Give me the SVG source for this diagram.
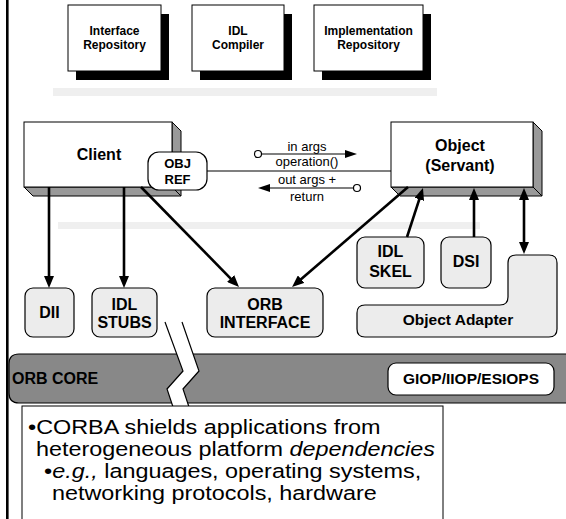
<svg xmlns="http://www.w3.org/2000/svg" width="566" height="519" viewBox="0 0 566 519">
  <defs>
    <marker id="head" markerUnits="userSpaceOnUse" markerWidth="12" markerHeight="10" refX="4" refY="5" orient="auto-start-reverse">
      <path d="M0,0 L12,5 L0,10 Z" fill="#000"/>
    </marker>
    <marker id="headSmall" markerUnits="userSpaceOnUse" markerWidth="12" markerHeight="8" refX="2" refY="4" orient="auto">
      <path d="M0,0 L12,4 L0,8 Z" fill="#000"/>
    </marker>
  </defs>
  <style>
    .b{font-family:"Liberation Sans",Arial,sans-serif;font-weight:bold;text-anchor:middle;fill:#000}
    .r{font-family:"Liberation Sans",Arial,sans-serif;text-anchor:middle;fill:#000;font-size:13px}
    .body{font-family:"Liberation Sans",Arial,sans-serif;fill:#000;font-size:19.5px}
    .card{fill:#fff;stroke:#000;stroke-width:1}
    .shadow{fill:#000}
    .side{fill:#999;stroke:#000;stroke-width:1;stroke-linejoin:round}
    .pill{fill:#ececec;stroke:#000;stroke-width:1.2}
    .conn{fill:none;stroke:#000;stroke-width:2.6}
    .thin{fill:none;stroke:#000;stroke-width:1.2}
    .dot{fill:#fff;stroke:#000;stroke-width:1.2}
    .bar{fill:#efefef}
  </style>

  <!-- page frame line -->
  <rect x="6" y="0" width="2.6" height="519" fill="#000"/>

  <!-- separator bars -->
  <rect class="bar" x="53" y="88" width="384" height="8"/>
  <rect class="bar" x="58" y="222" width="422" height="7"/>

  <!-- top tools -->
  <g id="interface-repository">
    <rect class="shadow" x="76" y="14" width="93" height="66"/>
    <rect class="card" x="68" y="5" width="93" height="66"/>
    <text class="b" font-size="12" x="114.5" y="35">Interface</text>
    <text class="b" font-size="12" x="114.5" y="49">Repository</text>
  </g>
  <g id="idl-compiler">
    <rect class="shadow" x="200" y="14" width="92" height="66"/>
    <rect class="card" x="192" y="5" width="92" height="66"/>
    <text class="b" font-size="12" x="238" y="35">IDL</text>
    <text class="b" font-size="12" x="238" y="49">Compiler</text>
  </g>
  <g id="implementation-repository">
    <rect class="shadow" x="322" y="14" width="109" height="66"/>
    <rect class="card" x="314" y="5" width="109" height="66"/>
    <text class="b" font-size="12" x="368.5" y="35">Implementation</text>
    <text class="b" font-size="12" x="368.5" y="49">Repository</text>
  </g>

  <!-- client -->
  <g id="client">
    <polygon class="side" points="172,122 181,131 181,196 172,187"/>
    <polygon class="side" points="24,187 172,187 181,196 33,196"/>
    <rect class="card" x="24" y="122" width="148" height="65"/>
    <text class="b" font-size="16" x="99" y="160">Client</text>
  </g>

  <!-- object / servant -->
  <g id="object">
    <polygon class="side" points="533,122 542,131 542,196 533,187"/>
    <polygon class="side" points="391,187 533,187 542,196 400,196"/>
    <rect class="card" x="391" y="122" width="142" height="65"/>
    <text class="b" font-size="16" x="460" y="151">Object</text>
    <text class="b" font-size="16" x="460" y="171">(Servant)</text>
  </g>

  <!-- lower components -->
  <g id="dii">
    <rect class="pill" x="25" y="288" width="49" height="49" rx="8"/>
    <text class="b" font-size="16" x="49.5" y="318">DII</text>
  </g>
  <g id="idl-stubs">
    <rect class="pill" x="92" y="288" width="65" height="49" rx="8"/>
    <text class="b" font-size="16" x="124.5" y="310">IDL</text>
    <text class="b" font-size="16" x="124.5" y="328">STUBS</text>
  </g>
  <g id="orb-interface">
    <rect class="pill" x="207" y="288" width="116" height="49" rx="8"/>
    <text class="b" font-size="16" x="265" y="310">ORB</text>
    <text class="b" font-size="16" x="265" y="328">INTERFACE</text>
  </g>
  <g id="idl-skel">
    <rect class="pill" x="357" y="237" width="67" height="51" rx="8"/>
    <text class="b" font-size="16" x="390.5" y="257">IDL</text>
    <text class="b" font-size="16" x="390.5" y="277">SKEL</text>
  </g>
  <g id="dsi">
    <rect class="pill" x="441" y="237" width="50" height="51" rx="8"/>
    <text class="b" font-size="16" x="466" y="267">DSI</text>
  </g>
  <g id="object-adapter">
    <path class="pill" d="M365,305 H500 Q508,305 508,297 V263 Q508,255 516,255 H549 Q557,255 557,263 V329 Q557,337 549,337 H365 Q357,337 357,329 V313 Q357,305 365,305 Z"/>
    <text class="b" font-size="15.5" x="458" y="325">Object Adapter</text>
  </g>

  <!-- ORB core band -->
  <g id="orb-core">
    <path d="M566,354 H19 Q9,354 9,364 V393 Q9,403 19,403 H566" fill="#888" stroke="#000" stroke-width="1.2"/>
    <text class="b" font-size="16" x="12" y="384" style="text-anchor:start">ORB CORE</text>
  </g>
  <g id="giop">
    <rect x="388" y="363" width="166" height="32" rx="8" fill="#fff" stroke="#000" stroke-width="1.2"/>
    <text class="b" font-size="15.5" x="471" y="384">GIOP/IIOP/ESIOPS</text>
  </g>

  <!-- break mark through the core -->
  <g id="break">
    <polygon points="165,322 183,371 167,389 173,407 189,407 183,389 199,371 182,322" fill="#fff"/>
    <polyline class="thin" points="165,322 183,371 167,389 173,407"/>
    <polyline class="thin" points="182,322 199,371 183,389 189,407"/>
  </g>

  <!-- object reference on the client -->
  <g id="obj-ref">
    <rect x="148" y="152" width="59" height="38" rx="11" fill="#fff" stroke="#000" stroke-width="1.2"/>
    <text class="b" font-size="13" x="177.5" y="168">OBJ</text>
    <text class="b" font-size="13" x="177.5" y="184">REF</text>
  </g>

  <!-- connectors -->
  <g id="connectors">
    <line x1="207" y1="171" x2="391" y2="171" stroke="#000" stroke-width="1.2"/>
    <line class="thin" x1="261.5" y1="154" x2="347" y2="154" marker-end="url(#headSmall)"/>
    <circle class="dot" cx="258" cy="154" r="3.5"/>
    <line class="thin" x1="353.5" y1="188" x2="268" y2="188" marker-end="url(#headSmall)"/>
    <circle class="dot" cx="357" cy="188" r="3.5"/>

    <line class="conn" x1="49" y1="187" x2="49" y2="280" marker-end="url(#head)"/>
    <line class="conn" x1="124" y1="187" x2="124" y2="280" marker-end="url(#head)"/>
    <line class="conn" x1="141" y1="187" x2="233.4" y2="281.3" marker-end="url(#head)"/>
    <line class="conn" x1="408" y1="187" x2="298.1" y2="281.8" marker-end="url(#head)"/>
    <line class="conn" x1="407" y1="237" x2="420.5" y2="195.6" marker-end="url(#head)"/>
    <line class="conn" x1="474" y1="237" x2="474" y2="196" marker-end="url(#head)"/>
    <line class="conn" x1="524" y1="196" x2="524" y2="246" marker-start="url(#head)" marker-end="url(#head)"/>
  </g>
  <g id="call-labels">
    <text class="r" x="307" y="151">in args</text>
    <text class="r" x="307" y="166">operation()</text>
    <text class="r" x="307" y="184">out args +</text>
    <text class="r" x="307" y="201">return</text>
  </g>

  <!-- summary text (slide text is set slightly wide) -->
  <g id="summary">
    <rect x="22" y="406" width="421" height="120" fill="#fff" stroke="#000" stroke-width="1"/>
    <g transform="scale(1.2,1)">
      <text class="body" x="23.3" y="434">•<tspan>CORBA shields applications from</tspan></text>
      <text class="body" x="30" y="456">heterogeneous platform <tspan font-style="italic">dependencies</tspan></text>
      <text class="body" x="36.7" y="478">•<tspan font-style="italic">e.g.,</tspan> languages, operating systems,</text>
      <text class="body" x="43.3" y="500">networking protocols, hardware</text>
    </g>
  </g>
</svg>
